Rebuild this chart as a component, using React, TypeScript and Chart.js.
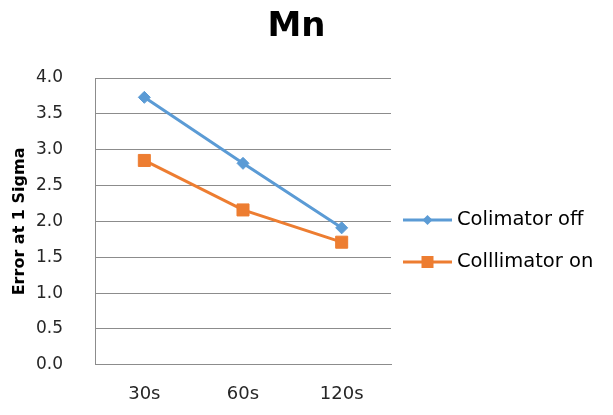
import React, { useEffect, useRef } from "react";
import { Chart, registerables } from "chart.js";

Chart.register(...registerables);

const categories = ["30s", "60s", "120s"];
const colimatorOff = [3.73, 2.81, 1.91];
const collimatorOn = [2.85, 2.16, 1.71];
const seriesNames = ["Colimator off", "Colllimator on"];
const chartTitle = "Mn";
const yAxisTitle = "Error at 1 Sigma";

const BLUE = "#5B9BD5";
const ORANGE = "#ED7D31";
const GRID = "#8C8C8C";
const FONT = "DejaVu Sans";

const titleLegendPlugin = {
  id: "titleLegend",
  afterDraw(chart: any) {
    const ctx = chart.ctx;
    ctx.save();
    // title
    ctx.fillStyle = "#000";
    ctx.font = `bold 34px "${FONT}"`;
    ctx.textAlign = "center";
    ctx.textBaseline = "middle";
    ctx.fillText(chartTitle, 288.5, 19);
    // legend
    chart.data.datasets.forEach((ds: any, i: number) => {
      const y = 212 + i * 42;
      const x0 = 395;
      const x1 = 444;
      const cx = (x0 + x1) / 2;
      ctx.strokeStyle = ds.borderColor;
      ctx.lineWidth = 3;
      ctx.beginPath();
      ctx.moveTo(x0, y);
      ctx.lineTo(x1, y);
      ctx.stroke();
      ctx.fillStyle = ds.backgroundColor;
      ctx.beginPath();
      if (ds.pointStyle === "rectRot") {
        const r = 5;
        ctx.moveTo(cx - r, y);
        ctx.lineTo(cx, y - r);
        ctx.lineTo(cx + r, y);
        ctx.lineTo(cx, y + r);
        ctx.closePath();
      } else {
        const h = 6;
        ctx.rect(cx - h, y - h, 2 * h, 2 * h);
      }
      ctx.fill();
      ctx.fillStyle = "#000";
      ctx.font = `19.5px "${FONT}"`;
      ctx.textAlign = "left";
      ctx.textBaseline = "middle";
      ctx.fillText(ds.label, 449, y);
    });
    ctx.restore();
  },
};

export default function App() {
  const ref = useRef<HTMLCanvasElement | null>(null);
  useEffect(() => {
    if (!ref.current) return;
    const chart = new Chart(ref.current, {
      type: "line",
      data: {
        labels: categories,
        datasets: [
          {
            label: seriesNames[0],
            data: colimatorOff,
            borderColor: BLUE,
            backgroundColor: BLUE,
            borderWidth: 3,
            pointStyle: "rectRot",
            pointRadius: 6,
            pointBorderWidth: 1,
            tension: 0,
          },
          {
            label: seriesNames[1],
            data: collimatorOn,
            borderColor: ORANGE,
            backgroundColor: ORANGE,
            borderWidth: 3,
            pointStyle: "rect",
            pointRadius: 8.5,
            pointBorderWidth: 1,
            tension: 0,
          },
        ],
      },
      options: {
        animation: false,
        responsive: true,
        maintainAspectRatio: false,
        layout: { padding: { top: 70, right: 214, bottom: 0, left: 0 } },
        plugins: {
          legend: { display: false },
          title: { display: false },
          tooltip: { enabled: false },
        },
        scales: {
          x: {
            offset: true,
            grid: { display: false, drawTicks: false },
            border: { display: true, color: GRID, width: 1 },
            ticks: {
              color: "#262626",
              font: { family: FONT, size: 18 },
              padding: 19,
            },
            afterFit(scale: any) {
              scale.height = 35;
            },
          },
          y: {
            min: 0,
            max: 4,
            grid: { color: GRID, lineWidth: 1, drawTicks: false },
            border: { display: true, color: GRID, width: 1 },
            ticks: {
              stepSize: 0.5,
              color: "#262626",
              font: { family: FONT, size: 17 },
              padding: 32,
              callback: (v: any) => Number(v).toFixed(1),
            },
            title: {
              display: true,
              text: yAxisTitle,
              color: "#000",
              font: { family: FONT, size: 16, weight: "bold" },
              padding: { top: 2, bottom: 0 },
            },
            afterFit(scale: any) {
              scale.width = 87;
            },
          },
        },
      },
      plugins: [titleLegendPlugin],
    });
    return () => chart.destroy();
  }, []);
  return (
    <div style={{ width: 597, height: 399, position: "relative" }}>
      <canvas ref={ref} />
    </div>
  );
}
